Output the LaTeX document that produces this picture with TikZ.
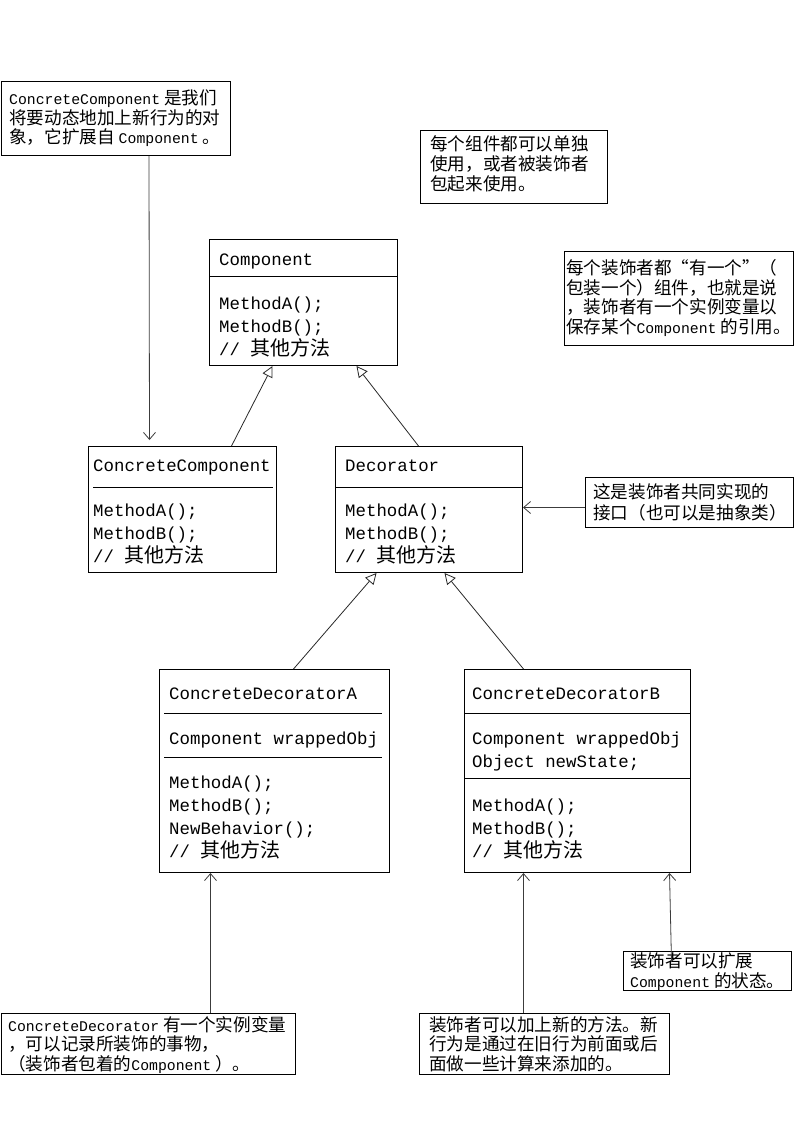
\documentclass[tikz,border=0pt]{standalone}
\usepackage{fontspec}
\setmainfont{Noto Sans CJK SC}
\setmonofont{Liberation Mono}
\usetikzlibrary{arrows.meta,positioning}
\definecolor{boxcolor}{RGB}{0, 0, 0}
\definecolor{edgecolor1}{RGB}{40, 40, 40}
\definecolor{edgecolor2}{RGB}{60, 60, 60}
\definecolor{background}{RGB}{255, 255, 255}
\newcommand{\lat}[1]{{\ttfamily\fontsize{14.8}{19.5}\selectfont #1}}
\newcommand{\zh}[1]{{\rmfamily\fontsize{20}{23}\selectfont #1}}

\begin{document}
\begin{tikzpicture}[x=1pt, y=-1pt,
  umlbox/.style={draw=boxcolor, line width=1pt, anchor=north west, inner sep=0pt},
  notebox/.style={draw=boxcolor, line width=1pt, anchor=north west, inner sep=0pt},
  divider/.style={boxcolor, line width=1pt},
  clstext/.style={anchor=base west, inner sep=0pt, align=left, font=\ttfamily\fontsize{17.4}{23}\selectfont},
  notetext/.style={anchor=base west, inner sep=0pt, align=left, font=\fontsize{17.6}{19.5}\selectfont},
  inherit/.style={edgecolor1, line width=0.8pt, -{Triangle[open, fill=white, length=11pt, width=11pt]}},
  depend/.style={edgecolor2, line width=0.8pt, -{Straight Barb[length=7pt, width=12pt]}}]
  % Set background color
  \fill[background] (0,0) rectangle (794,1123);

  % Component (multi-line texts sit on their last baseline)
  \node[umlbox, minimum width=188pt, minimum height=126pt] (comp) at (209,239) {};
  \draw[divider] ([yshift=-37pt]comp.north west) -- ([yshift=-37pt]comp.north east);
  \node[clstext] (comp-name) at (219,265) {Component};
  \node[clstext] (comp-ops) at (219,355) {MethodA();\\MethodB();\\// \zh{其他方法}};

  % ConcreteComponent
  \node[umlbox, minimum width=188pt, minimum height=126pt] (cc) at (88,446) {};
  \draw[divider] ([xshift=5pt,yshift=-41pt]cc.north west) -- ([xshift=-4pt,yshift=-41pt]cc.north east);
  \node[clstext] (cc-name) at (93,471) {ConcreteComponent};
  \node[clstext] (cc-ops) at (93,562) {MethodA();\\MethodB();\\// \zh{其他方法}};

  % Decorator
  \node[umlbox, minimum width=187pt, minimum height=126pt] (deco) at (335,446) {};
  \draw[divider] ([yshift=-41pt]deco.north west) -- ([yshift=-41pt]deco.north east);
  \node[clstext] (deco-name) at (345,471) {Decorator};
  \node[clstext] (deco-ops) at (345,562) {MethodA();\\MethodB();\\// \zh{其他方法}};

  % ConcreteDecoratorA
  \node[umlbox, minimum width=230pt, minimum height=203pt] (cda) at (159,669) {};
  \draw[divider] ([xshift=5pt,yshift=-44pt]cda.north west) -- ([xshift=-8pt,yshift=-44pt]cda.north east);
  \draw[divider] ([xshift=5pt,yshift=-88pt]cda.north west) -- ([xshift=-8pt,yshift=-88pt]cda.north east);
  \node[clstext] (cda-name) at (169,699) {ConcreteDecoratorA};
  \node[clstext] (cda-attr) at (169,744) {Component wrappedObj};
  \node[clstext] (cda-ops) at (169,857) {MethodA();\\MethodB();\\NewBehavior();\\// \zh{其他方法}};

  % ConcreteDecoratorB
  \node[umlbox, minimum width=226pt, minimum height=203pt] (cdb) at (464,669) {};
  \draw[divider] ([yshift=-44pt]cdb.north west) -- ([yshift=-44pt]cdb.north east);
  \draw[divider] ([yshift=-109pt]cdb.north west) -- ([yshift=-109pt]cdb.north east);
  \node[clstext] (cdb-name) at (472,699) {ConcreteDecoratorB};
  \node[clstext] (cdb-attr) at (472,767) {Component wrappedObj\\Object newState;};
  \node[clstext] (cdb-ops) at (472,857) {MethodA();\\MethodB();\\// \zh{其他方法}};

  % Notes
  \node[notebox, minimum width=229pt, minimum height=74pt] (n1) at (1,81) {};
  \node[notetext] (n1-text) at (9,144) {\lat{ConcreteComponent} 是我们\\将要动态地加上新行为的对\\象，它扩展自 \lat{Component} 。};

  \node[notebox, minimum width=187pt, minimum height=73pt] (n2) at (420,130) {};
  \node[notetext, font=\fontsize{17.6}{20}\selectfont] (n2-text) at (430,191) {每个组件都可以单独\\使用，或者被装饰者\\包起来使用。};

  \node[notebox, minimum width=229pt, minimum height=94pt] (n3) at (564,251) {};
  \node[notetext] (n3-text) at (566,333) {每个装饰者都“有一个”（\\包装一个）组件，也就是说\\，装饰者有一个实例变量以\\保存某个\lat{Component} 的引用。};

  \node[notebox, minimum width=208pt, minimum height=50pt] (n4) at (585,477) {};
  \node[notetext, font=\fontsize{17.6}{21}\selectfont] (n4-text) at (593,519) {这是装饰者共同实现的\\接口（也可以是抽象类）};

  \node[notebox, minimum width=294pt, minimum height=61pt] (n5) at (1,1013) {};
  \node[notetext] (n5-text) at (8,1070) {\lat{ConcreteDecorator} 有一个实例变量\\，可以记录所装饰的事物，\\（装饰者包着的\lat{Component} ）。};

  \node[notebox, minimum width=250pt, minimum height=61pt] (n6) at (419,1013) {};
  \node[notetext] (n6-text) at (429,1070) {装饰者可以加上新的方法。新\\行为是通过在旧行为前面或后\\面做一些计算来添加的。};

  \node[notebox, minimum width=168pt, minimum height=39pt] (n7) at (623,951) {};
  \node[notetext, font=\fontsize{17.6}{20}\selectfont] (n7-text) at (630,987) {装饰者可以扩展\\\lat{Component} 的状态。};

  % Inheritance
  \draw[inherit] ([xshift=49pt]cc.north) -- ([xshift=-31pt]comp.south);
  \draw[inherit] ([xshift=-10.5pt]deco.north) -- ([xshift=53pt]comp.south);
  \draw[inherit] ([xshift=19pt]cda.north) -- ([xshift=-52.5pt]deco.south);
  \draw[inherit] ([xshift=-54pt]cdb.north) -- ([xshift=15.5pt]deco.south);

  % Note pointers
  \draw[depend] ([xshift=33pt]n1.south) -- ([xshift=-33pt,yshift=6pt]cc.north);
  \draw[depend] ([yshift=-5pt]n4.west) -- ([yshift=-5pt]n4.west -| deco.east);
  \draw[depend] ([xshift=62pt]n5.north) -- ([xshift=62pt]n5.north |- cda.south);
  \draw[depend] ([xshift=-21pt]n6.north) -- ([xshift=-21pt]n6.north |- cdb.south);
  \draw[depend] ([xshift=-36pt,yshift=-11pt]n7.north) -- ([xshift=92pt]cdb.south);

\end{tikzpicture}
\end{document}
